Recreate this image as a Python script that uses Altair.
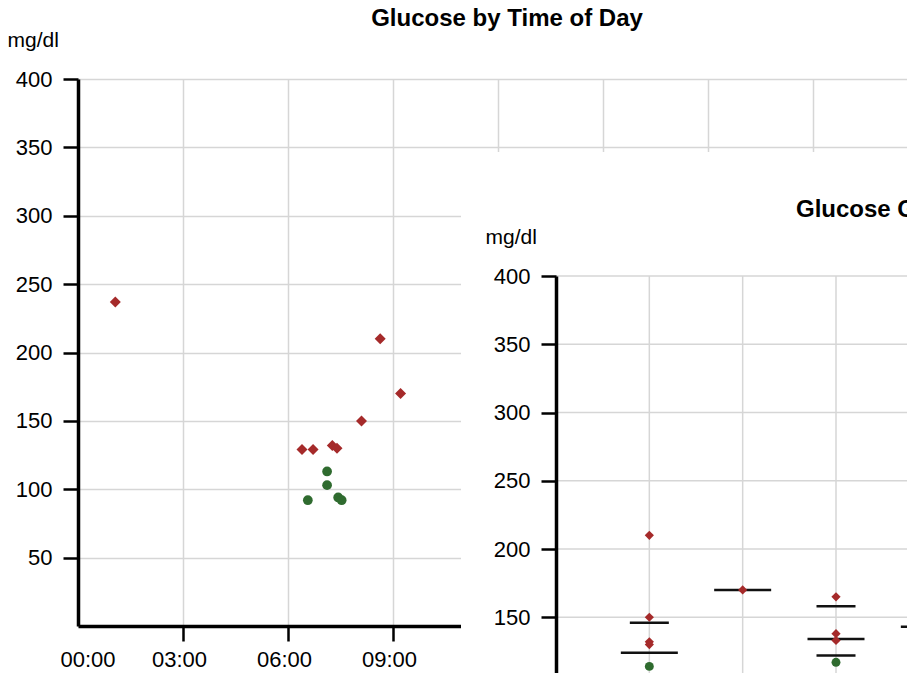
import altair as alt
import pandas as pd

# ---------------- texts ----------------
title_1 = "Glucose by Time of Day"
title_2 = "Glucose Grouped by Day of Week"
y_title = "mg/dl"

# ---------------- data: chart 1 (Glucose by Time of Day) ----------------
high_times = ["01:04", "06:24", "06:43", "07:16", "07:24", "08:06", "08:38", "09:13"]
high_values = [237, 129, 129, 132, 130, 150, 210, 170]
normal_times = ["06:34", "07:07", "07:07", "07:26", "07:32"]
normal_values = [92, 113, 103, 94, 92]

hour_ticks = [0, 3, 6, 9, 12, 15, 18, 21]
value_ticks_1 = [50, 100, 150, 200, 250, 300, 350, 400]

# ---------------- data: chart 2 (grouped) ----------------
group_columns = [1, 2, 3, 4]
grouped_high_col = [1, 1, 1, 1, 2, 3, 3, 3]
grouped_high_values = [210, 150, 132, 130, 170, 165, 138, 133]
grouped_normal_col = [1, 3]
grouped_normal_values = [114, 117]
summary_col = [1, 1, 2, 3, 3, 3, 4, 4]
summary_values = [146, 124, 170, 158, 134, 122, 163, 143]
summary_kind = ["upper", "middle", "middle", "upper", "middle", "lower", "upper", "middle"]
value_ticks_2 = [150, 200, 250, 300, 350, 400]


def to_hours(t):
    h, m = t.split(":")
    return int(h) + int(m) / 60.0


df_high = pd.DataFrame({"hours": [to_hours(t) for t in high_times], "value": high_values})
df_normal = pd.DataFrame({"hours": [to_hours(t) for t in normal_times], "value": normal_values})
df_g_high = pd.DataFrame({"col": grouped_high_col, "value": grouped_high_values})
df_g_normal = pd.DataFrame({"col": grouped_normal_col, "value": grouped_normal_values})
df_summary = pd.DataFrame({"col": summary_col, "value": summary_values, "kind": summary_kind})
df_cols = pd.DataFrame({"col": group_columns})
df_ticks2 = pd.DataFrame({"v": value_ticks_2})
df_one = pd.DataFrame({"k": [0]})

FONT = "Liberation Sans"
RED = "#a52a2a"
GREEN = "#2f6b2f"
GRID = "#d6d6d6"
LINE = "#111111"

AX = dict(
    domainColor="black", domainWidth=3.5,
    tickColor="black", tickWidth=2.5, tickSize=15,
    labelFont=FONT, labelFontSize=22, labelColor="black",
    gridColor=GRID, gridWidth=1.5,
    titleFont=FONT, titleFontSize=21, titleFontWeight="normal", titleColor="black",
)

# ---------------- chart 1 ----------------
x1_scale = alt.Scale(domain=[0, 24], range=[0, 840], nice=False)
y1_scale = alt.Scale(domain=[0, 400], range=[547, 0], nice=False)

x1_axis = alt.Axis(
    values=hour_ticks, title=None, grid=True,
    labelFlush=True, labelFlushOffset=14, labelOffset=-4, labelPadding=8,
    labelExpr="(datum.value < 10 ? '0' : '') + datum.value + ':00'",
    tickOpacity={"condition": {"test": "datum.value === 0", "value": 0}, "value": 1},
    **AX,
)
y1_axis = alt.Axis(
    values=value_ticks_1, title=y_title, titleAngle=0, titleAlign="left",
    titleBaseline="alphabetic", titleX=-71, titleY=-33, grid=True, labelPadding=11,
    **AX,
)

c1_high = alt.Chart(df_high).mark_point(
    shape="diamond", filled=True, size=121, color=RED, opacity=1
).encode(
    x=alt.X("hours:Q", scale=x1_scale, axis=x1_axis),
    y=alt.Y("value:Q", scale=y1_scale, axis=y1_axis),
)
c1_normal = alt.Chart(df_normal).mark_point(
    shape="circle", filled=True, size=95, color=GREEN, opacity=1
).encode(
    x=alt.X("hours:Q", scale=x1_scale, axis=None),
    y=alt.Y("value:Q", scale=y1_scale, axis=None),
)
title1 = alt.Chart(df_one).mark_text(
    text=title_1, align="center", baseline="alphabetic", font=FONT,
    fontSize=24, fontWeight="bold", color="black"
).encode(x=alt.value(429), y=alt.value(-53))

# ---------------- chart 2 ----------------
x2_scale = alt.Scale(domain=[0, 9], range=[478, 1318], nice=False, zero=False)
y2_scale = alt.Scale(domain=[0, 400], range=[743, 197], nice=False)

y2_axis = alt.Axis(
    orient="left", offset=-478, zindex=1, values=value_ticks_2, grid=False,
    title=y_title, titleAngle=0, titleAlign="left", titleBaseline="alphabetic",
    titleX=-71, titleY=164, labelPadding=11,
    **AX,
)

panel = alt.Chart(df_one).mark_rect(color="white", opacity=1).encode(
    x=alt.value(383), x2=alt.value(1600), y=alt.value(73), y2=alt.value(1000)
)
hgrid = alt.Chart(df_ticks2).mark_rule(color=GRID, strokeWidth=1.5).encode(
    y=alt.Y("v:Q", scale=y2_scale, axis=y2_axis),
    x=alt.XDatum(0, type="quantitative", scale=x2_scale, axis=None),
    x2=alt.X2Datum(9),
)
vgrid = alt.Chart(df_cols).mark_rule(color=GRID, strokeWidth=1.5).encode(
    x=alt.X("col:Q", scale=x2_scale, axis=None),
    y=alt.YDatum(0, type="quantitative", scale=y2_scale, axis=None),
    y2=alt.Y2Datum(400),
)
ticks_mid = alt.Chart(df_summary).transform_filter("datum.kind === 'middle'").mark_tick(
    orient="horizontal", size=57, thickness=2.5, color=LINE, opacity=1
).encode(
    x=alt.X("col:Q", scale=x2_scale, axis=None),
    y=alt.Y("value:Q", scale=y2_scale, axis=None),
)
ticks_q = alt.Chart(df_summary).transform_filter("datum.kind !== 'middle'").mark_tick(
    orient="horizontal", size=39, thickness=2.5, color=LINE, opacity=1
).encode(
    x=alt.X("col:Q", scale=x2_scale, axis=None),
    y=alt.Y("value:Q", scale=y2_scale, axis=None),
)
c2_high = alt.Chart(df_g_high).mark_point(
    shape="diamond", filled=True, size=85, color=RED, opacity=1
).encode(
    x=alt.X("col:Q", scale=x2_scale, axis=None),
    y=alt.Y("value:Q", scale=y2_scale, axis=None),
)
c2_normal = alt.Chart(df_g_normal).mark_point(
    shape="circle", filled=True, size=80, color=GREEN, opacity=1
).encode(
    x=alt.X("col:Q", scale=x2_scale, axis=None),
    y=alt.Y("value:Q", scale=y2_scale, axis=None),
)
title2 = alt.Chart(df_one).mark_text(
    text=title_2, align="left", baseline="alphabetic", font=FONT,
    fontSize=24, fontWeight="bold", color="black"
).encode(x=alt.value(718), y=alt.value(138))

chart = alt.layer(
    c1_high, c1_normal, title1,
    panel, hgrid, vgrid, ticks_mid, ticks_q, c2_high, c2_normal, title2,
).resolve_scale(
    x="independent", y="independent"
).resolve_axis(
    x="independent", y="independent"
).properties(
    width=829, height=547,
    autosize="none",
    padding={"left": 70, "top": 71, "right": 0, "bottom": 64},
    background="white",
).configure_view(strokeWidth=0)

chart.save("out.html", embed_options={"renderer": "svg", "actions": False})
